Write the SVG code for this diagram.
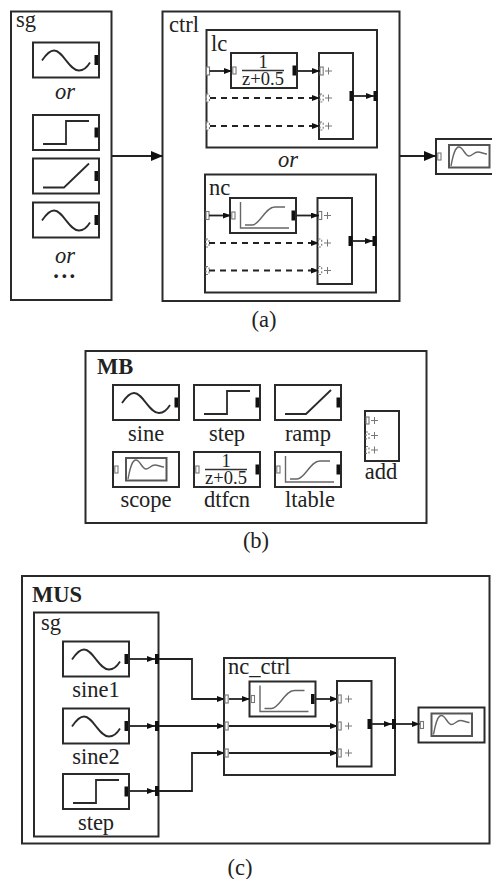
<svg xmlns="http://www.w3.org/2000/svg" xmlns:xlink="http://www.w3.org/1999/xlink" width="492" height="879" viewBox="0 0 492 879">
<style>
text{font-family:"Liberation Serif","Times New Roman",serif;font-size:22.5px;fill:#222}
.c{text-anchor:middle}
.i{font-style:italic}
.b{font-weight:bold}
.f{font-size:18.5px}
.box{fill:none;stroke:#2a2a2a;stroke-width:2}
.cv{fill:none;stroke:#2a2a2a;stroke-width:1.8}
.gr{fill:none;stroke:#666;stroke-width:1.4}
.pi{fill:#fff;stroke:#777;stroke-width:1.1}
.pd{fill:#fff;stroke:#777;stroke-width:1.1;stroke-dasharray:2 2}
.po{fill:#111}
.w{fill:none;stroke:#222;stroke-width:1.8}
.wa{fill:none;stroke:#222;stroke-width:1.8;marker-end:url(#s)}
.wd{fill:none;stroke:#222;stroke-width:1.8;stroke-dasharray:6 5;marker-end:url(#s)}
.wb{fill:none;stroke:#222;stroke-width:1.8;marker-end:url(#l)}
.plus{stroke:#777;stroke-width:1;fill:none}
</style>
<defs>
<marker id="s" markerUnits="userSpaceOnUse" markerWidth="8" markerHeight="6" refX="8" refY="3" orient="auto"><path d="M0 0L8 3L0 6Z" fill="#111"/></marker>
<marker id="l" markerUnits="userSpaceOnUse" markerWidth="12" markerHeight="10" refX="12" refY="5" orient="auto"><path d="M0 0L12 5L0 10Z" fill="#111"/></marker>
<g id="blk"><rect class="box" x="0" y="0" width="66" height="35"/></g>
<g id="out"><rect class="po" x="61.5" y="12.5" width="3.5" height="10"/></g>
<g id="in"><rect class="pi" x="1.8" y="14" width="3.2" height="7"/></g>
<g id="sine"><use href="#blk"/><use href="#out"/><path class="cv" d="M9 18C13 12 17 8 21 8C30 8 36 28 46 28C50 28 54 25 57 20"/></g>
<g id="step"><use href="#blk"/><use href="#out"/><path class="cv" d="M10 29H33V6H56"/></g>
<g id="ramp"><use href="#blk"/><use href="#out"/><path class="cv" d="M10 29H31L56 5"/></g>
<g id="scope"><use href="#blk"/><use href="#in"/><rect class="box" style="stroke:#555" x="13" y="6" width="40.5" height="22.5"/><path class="gr" d="M15 27C17 16 19 8 23 8C27 8 29 17 33 17C36 17 38 13 42 13C45 13 48 15 51 15"/></g>
<g id="ltable"><use href="#blk"/><use href="#in"/><use href="#out"/><path class="gr" d="M10.5 4V30H59M15 27H22C30 27 35 9 45 9H55"/></g>
<g id="dtf"><use href="#blk"/><use href="#in"/><use href="#out"/><path class="gr" style="stroke:#333" d="M11 17.5H53"/></g>
<g id="plus"><path class="plus" d="M0 0H7M3.5 -3.5V3.5"/></g>
</defs>

<g id="sg-a">
<rect class="box" x="11" y="11.5" width="100.5" height="288.5"/>
<text x="16" y="27">sg</text>
<use href="#sine" x="33" y="42.5"/>
<text class="c i" x="65" y="99">or</text>
<use href="#step" x="33" y="115"/>
<use href="#ramp" x="33" y="158.5"/>
<use href="#sine" x="33" y="202.5"/>
<text class="c i" x="65" y="263">or</text>
<text class="c b" x="65.5" y="278" style="letter-spacing:2.5px">...</text>
</g>
<g id="ctrl-a">
<rect class="box" x="162.5" y="11.5" width="237" height="289.5"/>
<text x="169" y="32">ctrl</text>
<text class="c i" x="288" y="167">or</text>
</g>
<g id="lc">
<rect class="box" x="206.5" y="30" width="170.5" height="117.5"/>
<text x="211" y="51">lc</text>
<rect class="pi" x="206.5" y="67" width="3" height="8"/>
<rect class="pd" x="206.5" y="94" width="3" height="8"/>
<rect class="pd" x="206.5" y="122" width="3" height="8"/>
<use href="#dtf" x="231" y="53"/>
<text class="c f" x="263" y="68">1</text>
<text class="c f" x="263" y="85">z+0.5</text>
<rect class="box" x="319" y="53" width="34" height="86"/>
<rect class="pi" x="320" y="67" width="3.2" height="8"/><use href="#plus" x="325" y="71"/>
<rect class="pd" x="320" y="94" width="3.2" height="8"/><use href="#plus" x="325" y="98"/>
<rect class="pd" x="320" y="122" width="3.2" height="8"/><use href="#plus" x="325" y="126"/>
<rect class="po" x="349.5" y="91" width="4" height="10"/>
<rect class="po" x="373.5" y="91" width="4" height="10"/>
</g>
<g id="nc">
<rect class="box" x="205" y="174.5" width="171" height="118"/>
<text x="209" y="195">nc</text>
<rect class="pi" x="206" y="211.5" width="3" height="8"/>
<rect class="pd" x="206" y="239" width="3" height="8"/>
<rect class="pd" x="206" y="266.5" width="3" height="8"/>
<use href="#ltable" x="230" y="198"/>
<rect class="box" x="317.5" y="198" width="34.5" height="86"/>
<rect class="pi" x="318.5" y="211.5" width="3.2" height="8"/><use href="#plus" x="324" y="215.5"/>
<rect class="pd" x="318.5" y="239" width="3.2" height="8"/><use href="#plus" x="324" y="243"/>
<rect class="pd" x="318.5" y="266.5" width="3.2" height="8"/><use href="#plus" x="324" y="270.5"/>
<rect class="po" x="348.5" y="236" width="4" height="10"/>
<rect class="po" x="372.5" y="236" width="4" height="10"/>
</g>
<use id="scope-a" href="#scope" x="436" y="139"/>
<text class="c" x="264" y="327">(a)</text>

<g id="connectors">
<path class="wb" d="M112 156H163"/>
<path class="wb" d="M400 156H436"/>
<path class="wa" d="M209.5 71H232"/>
<path class="wd" d="M210 98H320"/>
<path class="wd" d="M210 126H320"/>
<path class="wa" d="M297 71H320"/>
<path class="wa" d="M353 96H374"/>
<path class="wa" d="M209 215.5H231"/>
<path class="wd" d="M209 243H319"/>
<path class="wd" d="M209 270.5H319"/>
<path class="wa" d="M296 215.5H319"/>
<path class="wa" d="M352 241H373"/>
<path class="wa" d="M129 659H155"/>
<path class="wa" d="M129 726H155"/>
<path class="wa" d="M129 791H155"/>
<path class="wa" d="M158 659H192V699H225"/>
<path class="wa" d="M158 726H225"/>
<path class="wa" d="M158 791H192V753H225"/>
<path class="wa" d="M229 699H250"/>
<path class="wa" d="M229 726H338"/>
<path class="wa" d="M229 753H338"/>
<path class="wa" d="M315 699H338"/>
<path class="wa" d="M371 724H392"/>
<path class="wa" d="M395 724H420"/>
</g>

<g id="MB">
<rect class="box" x="85.5" y="351" width="341" height="172"/>
<text class="b" x="97" y="374">MB</text>
<use id="mb-sine" href="#sine" x="113" y="385"/><text class="c" x="146" y="441">sine</text>
<use id="mb-step" href="#step" x="194" y="385"/><text class="c" x="227" y="441">step</text>
<use id="mb-ramp" href="#ramp" x="275" y="385"/><text class="c" x="308" y="441">ramp</text>
<use id="mb-scope" href="#scope" x="113" y="452"/><text class="c" x="146" y="507">scope</text>
<use id="mb-dtfcn" href="#dtf" x="194" y="452"/>
<text class="c f" x="226" y="467">1</text>
<text class="c f" x="226" y="484">z+0.5</text>
<text class="c" x="227" y="507">dtfcn</text>
<use id="mb-ltable" href="#ltable" x="275" y="452"/><text class="c" x="310" y="507">ltable</text>
<g id="mb-add">
<rect class="box" x="365" y="411" width="34" height="50"/>
<rect class="pi" x="366" y="417" width="3" height="7"/><use href="#plus" x="371" y="420.5"/>
<rect class="pd" x="366" y="432" width="3" height="7"/><use href="#plus" x="371" y="435.5"/>
<rect class="pd" x="366" y="446.5" width="3" height="7"/><use href="#plus" x="371" y="450"/>
<text class="c" x="381" y="479">add</text>
</g>
</g>
<text class="c" x="256" y="548">(b)</text>

<g id="MUS">
<rect class="box" x="22" y="576" width="467.5" height="267.5"/>
<text class="b" x="32" y="602">MUS</text>
</g>
<g id="sg-c">
<rect class="box" x="34" y="612.5" width="124.5" height="224"/>
<text x="41" y="630">sg</text>
<use id="sine1" href="#sine" x="63" y="641.5"/><text class="c" x="96" y="697">sine1</text>
<use id="sine2" href="#sine" x="63" y="708.5"/><text class="c" x="96" y="764">sine2</text>
<use id="step-c" href="#step" x="63" y="774"/><text class="c" x="96" y="830">step</text>
<rect class="po" x="155" y="654" width="4" height="10"/>
<rect class="po" x="155" y="721" width="4" height="10"/>
<rect class="po" x="155" y="786" width="4" height="10"/>
</g>
<g id="nc_ctrl">
<rect class="box" x="224" y="658" width="171" height="117"/>
<text x="228" y="674">nc_ctrl</text>
<rect class="pi" x="225" y="695" width="3.2" height="8"/>
<rect class="pi" x="225" y="722" width="3.2" height="8"/>
<rect class="pi" x="225" y="749" width="3.2" height="8"/>
<use href="#ltable" x="249.5" y="681.5"/>
<rect class="box" x="337" y="681" width="34.5" height="85.5"/>
<rect class="pi" x="338" y="695" width="3.2" height="8"/><use href="#plus" x="345" y="699"/>
<rect class="pi" x="338" y="722" width="3.2" height="8"/><use href="#plus" x="345" y="726"/>
<rect class="pi" x="338" y="749" width="3.2" height="8"/><use href="#plus" x="345" y="753"/>
<rect class="po" x="367.5" y="719" width="4" height="10"/>
<rect class="po" x="392" y="719" width="4" height="10"/>
</g>
<use id="scope-c" href="#scope" x="418.5" y="707.5"/>
<text class="c" x="240" y="875">(c)</text>
</svg>
